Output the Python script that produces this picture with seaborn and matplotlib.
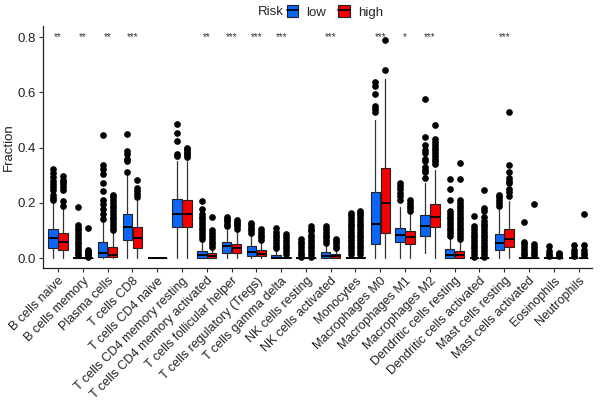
import numpy as np
import seaborn as sns
from matplotlib import pyplot as plt
from matplotlib.patches import Patch
from matplotlib.lines import Line2D

sns.set_theme(style="ticks")
plt.rcParams["font.family"] = ["Liberation Sans", "DejaVu Sans"]

# cell types on the x axis
cells = ["B cells naive", "B cells memory", "Plasma cells", "T cells CD8",
         "T cells CD4 naive", "T cells CD4 memory resting",
         "T cells CD4 memory activated", "T cells follicular helper",
         "T cells regulatory (Tregs)", "T cells gamma delta",
         "NK cells resting", "NK cells activated", "Monocytes",
         "Macrophages M0", "Macrophages M1", "Macrophages M2",
         "Dendritic cells resting", "Dendritic cells activated",
         "Mast cells resting", "Mast cells activated", "Eosinophils",
         "Neutrophils"]
stars = ["**", "**", "**", "***", "", "", "**", "***", "***", "***", "",
         "***", "", "***", "*", "***", "", "", "***", "", "", ""]
groups = ["low", "high"]
colors = ["#0a66f7", "#f50000"]

# low risk group box stats
low_q1 = [0.037, 0, 0.003, 0.064, 0, 0.112, 0, 0.020, 0.006, 0, 0, 0, 0,
          0.051, 0.057, 0.081, 0.002, 0, 0.030, 0, 0, 0]
low_med = [0.071, 0, 0.018, 0.114, 0, 0.161, 0.012, 0.042, 0.023, 0.002, 0,
           0.009, 0, 0.123, 0.082, 0.115, 0.012, 0, 0.055, 0, 0, 0]
low_q3 = [0.106, 0, 0.057, 0.161, 0, 0.214, 0.027, 0.060, 0.042, 0.012, 0,
          0.023, 0.004, 0.241, 0.109, 0.157, 0.033, 0, 0.088, 0, 0, 0]
low_lo = [0, 0, 0, 0, 0, 0, 0, 0, 0, 0, 0, 0, 0, 0, 0, 0.02, 0, 0, 0, 0, 0, 0]
low_hi = [0.20, 0, 0.13, 0.30, 0, 0.35, 0.06, 0.10, 0.085, 0.03, 0, 0.045,
          0.01, 0.50, 0.185, 0.27, 0.075, 0, 0.175, 0, 0, 0]
low_fliers = [
    [0.21, 0.216, 0.227, 0.246, 0.258, 0.267, 0.279, 0.295, 0.309, 0.322],
    [0.01, 0.02, 0.03, 0.04, 0.05, 0.06, 0.07, 0.08, 0.09, 0.10, 0.11, 0.12, 0.185],
    [0.14, 0.158, 0.176, 0.194, 0.212, 0.242, 0.272, 0.303, 0.321, 0.336, 0.445],
    [0.311, 0.351, 0.36, 0.376, 0.388, 0.448],
    [],
    [0.368, 0.376, 0.423, 0.454, 0.485],
    [0.07, 0.08, 0.09, 0.10, 0.11, 0.12, 0.13, 0.14, 0.15, 0.16, 0.176, 0.206],
    [0.115, 0.125, 0.135, 0.142, 0.148],
    [0.09, 0.10, 0.11, 0.118, 0.128],
    [0.035, 0.045, 0.055, 0.065, 0.075, 0.085, 0.095, 0.109],
    [0.005, 0.01, 0.02, 0.03, 0.04, 0.05, 0.06, 0.069],
    [0.055, 0.065, 0.075, 0.085, 0.095, 0.105, 0.115],
    [0.015, 0.025, 0.035, 0.045, 0.055, 0.065, 0.075, 0.085, 0.095, 0.105,
     0.115, 0.125, 0.135, 0.145, 0.155, 0.165],
    [0.527, 0.539, 0.551, 0.594, 0.624, 0.636],
    [0.21, 0.225, 0.235, 0.25, 0.26, 0.273],
    [0.29, 0.31, 0.32, 0.33, 0.35, 0.36, 0.38, 0.39, 0.41, 0.438, 0.575],
    [0.08, 0.09, 0.10, 0.11, 0.12, 0.13, 0.14, 0.15, 0.16, 0.17, 0.212, 0.25, 0.288],
    [0.005, 0.015, 0.025, 0.035, 0.045, 0.055, 0.065, 0.075, 0.085, 0.095,
     0.105, 0.115, 0.151],
    [0.19, 0.20, 0.21, 0.22, 0.227],
    [0.01, 0.02, 0.03, 0.04, 0.05, 0.06, 0.129],
    [0.008, 0.015, 0.025, 0.042],
    [0.008, 0.018, 0.03, 0.048],
]

# high risk group box stats
high_q1 = [0.028, 0, 0.003, 0.037, 0, 0.112, 0, 0.018, 0.006, 0, 0, 0, 0,
           0.091, 0.051, 0.111, 0.002, 0, 0.039, 0, 0, 0]
high_med = [0.059, 0, 0.012, 0.071, 0, 0.158, 0.009, 0.036, 0.015, 0.001, 0,
            0.008, 0, 0.200, 0.076, 0.149, 0.012, 0, 0.070, 0, 0, 0]
high_q3 = [0.091, 0, 0.040, 0.112, 0, 0.211, 0.018, 0.051, 0.028, 0.004, 0,
           0.015, 0.004, 0.325, 0.099, 0.197, 0.026, 0, 0.107, 0, 0, 0]
high_lo = [0, 0, 0, 0, 0, 0, 0, 0, 0, 0, 0, 0, 0, 0, 0, 0, 0, 0, 0, 0, 0, 0]
high_hi = [0.18, 0, 0.095, 0.21, 0, 0.35, 0.035, 0.095, 0.055, 0.012, 0,
           0.03, 0.01, 0.648, 0.16, 0.32, 0.06, 0, 0.205, 0, 0, 0]
high_fliers = [
    [0.19, 0.206, 0.248, 0.257, 0.267, 0.275, 0.283, 0.297],
    [0.005, 0.01, 0.015, 0.02, 0.025, 0.03, 0.109],
    [0.10, 0.11, 0.12, 0.13, 0.14, 0.15, 0.16, 0.17, 0.18, 0.19, 0.20, 0.21,
     0.22, 0.23],
    [0.222, 0.231, 0.243, 0.255, 0.281],
    [],
    [0.365, 0.372, 0.38, 0.387, 0.395, 0.40],
    [0.04, 0.05, 0.06, 0.07, 0.08, 0.09, 0.103, 0.148],
    [0.104, 0.115, 0.122, 0.13, 0.138],
    [0.065, 0.075, 0.085, 0.095, 0.105],
    [0.015, 0.025, 0.035, 0.045, 0.055, 0.065, 0.075, 0.088],
    [0.005, 0.015, 0.025, 0.035, 0.045, 0.055, 0.065, 0.075, 0.085, 0.097,
     0.105, 0.117],
    [0.035, 0.045, 0.055, 0.062, 0.069],
    [0.015, 0.025, 0.035, 0.045, 0.055, 0.065, 0.075, 0.085, 0.095, 0.105,
     0.115, 0.125, 0.135, 0.145, 0.155, 0.165, 0.17],
    [0.681, 0.790],
    [0.17, 0.18, 0.19, 0.20, 0.212],
    [0.34, 0.35, 0.36, 0.37, 0.38, 0.39, 0.40, 0.41, 0.42, 0.43, 0.481],
    [0.07, 0.08, 0.09, 0.10, 0.11, 0.12, 0.13, 0.14, 0.15, 0.16, 0.17, 0.18,
     0.19, 0.20, 0.21, 0.288, 0.345],
    [0.005, 0.015, 0.025, 0.035, 0.045, 0.055, 0.065, 0.075, 0.085, 0.095,
     0.105, 0.115, 0.125, 0.135, 0.15, 0.17, 0.182, 0.248],
    [0.226, 0.24, 0.25, 0.27, 0.28, 0.29, 0.31, 0.336, 0.53],
    [0.01, 0.02, 0.03, 0.04, 0.05, 0.196],
    [0.008, 0.015, 0.02],
    [0.01, 0.02, 0.03, 0.047, 0.161],
]

def make_stats(q1, med, q3, lo, hi, fl):
    return [dict(q1=q1[i], med=med[i], q3=q3[i], whislo=lo[i], whishi=hi[i],
                 fliers=fl[i]) for i in range(len(q1))]

stats = [make_stats(low_q1, low_med, low_q3, low_lo, low_hi, low_fliers),
         make_stats(high_q1, high_med, high_q3, high_lo, high_hi, high_fliers)]

fig = plt.figure(figsize=(6, 4.13), dpi=100)
ax = fig.add_axes([0.072, 0.351, 0.915, 0.586])

x = np.arange(len(cells))
for k, off in enumerate([-0.2, 0.2]):
    ax.bxp(stats[k], positions=x + off, widths=0.38, patch_artist=True,
           showcaps=False, manage_ticks=False,
           boxprops=dict(facecolor=colors[k], edgecolor="#222222", linewidth=0.8),
           medianprops=dict(color="black", linewidth=1.4),
           whiskerprops=dict(color="#333333", linewidth=0.9),
           flierprops=dict(marker="o", markerfacecolor="black",
                           markeredgecolor="black", markersize=3.8))

for i, s in enumerate(stars):
    if s:
        ax.text(x[i], 0.80, s, ha="center", va="center", fontsize=7,
                color="#333333")

ax.set_xlim(-0.6, 21.55)
ax.set_ylim(-0.036, 0.84)
ax.set_yticks([0.0, 0.2, 0.4, 0.6, 0.8])
ax.set_yticklabels(["0.0", "0.2", "0.4", "0.6", "0.8"], fontsize=9.5,
                   color="#222222")
ax.set_xticks(x)
ax.set_xticklabels(cells, rotation=45, ha="right", rotation_mode="anchor",
                   fontsize=9, color="#222222")
ax.set_ylabel("Fraction", fontsize=9.5, color="#222222", labelpad=2)
ax.tick_params(length=3, width=0.8, color="#333333", pad=2)
for sp in ["left", "bottom"]:
    ax.spines[sp].set_color("#222222")
    ax.spines[sp].set_linewidth(0.9)
sns.despine(ax=ax)

handles = [(Patch(facecolor=c, edgecolor="#222222", linewidth=0.8),
            Line2D([], [], color="black", linewidth=1.2)) for c in colors]
fig.text(0.43, 0.971, "Risk", fontsize=9.5, ha="left", va="center",
         color="#222222")
fig.legend(handles, groups, loc="center", bbox_to_anchor=(0.558, 0.971),
           ncol=2, frameon=False, fontsize=9.5, handlelength=0.9,
           handleheight=1.0, handletextpad=0.6, columnspacing=0.9)

plt.savefig("out.png", dpi=100)
plt.close()
